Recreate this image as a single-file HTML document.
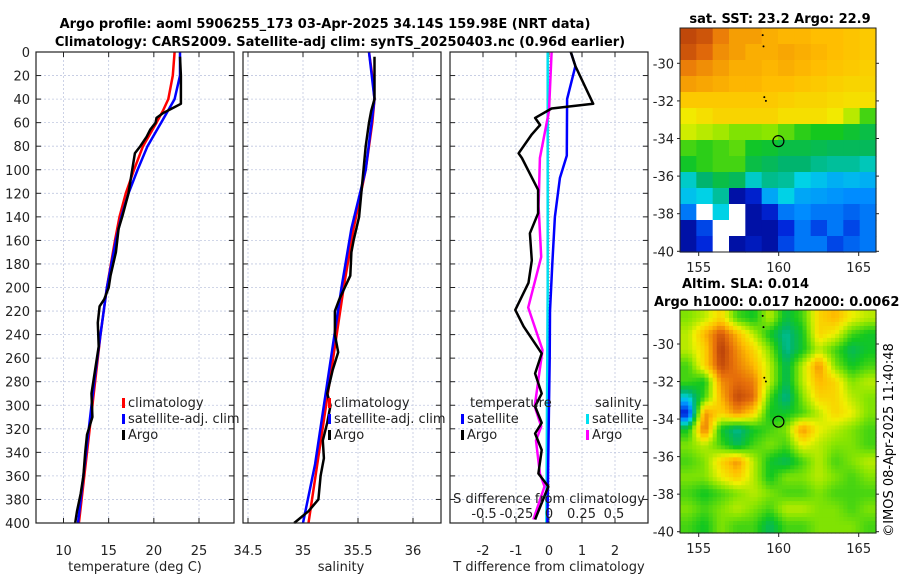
<!DOCTYPE html>
<html><head><meta charset="utf-8">
<style>
body{margin:0;background:#fff;}
svg{display:block;font-family:"DejaVu Sans","Liberation Sans",sans-serif;}
</style></head>
<body>
<svg id="fig" width="900" height="580" viewBox="0 0 900 580">
<text x="325" y="28" text-anchor="middle" font-size="13" font-weight="bold">Argo profile: aoml 5906255_173 03-Apr-2025 34.14S 159.98E (NRT data)</text>
<text x="340" y="46" text-anchor="middle" font-size="13" font-weight="bold">Climatology: CARS2009. Satellite-adj clim: synTS_20250403.nc (0.96d earlier)</text>
<text x="780" y="23" text-anchor="middle" font-size="13" font-weight="bold">sat. SST: 23.2 Argo: 22.9</text>
<text x="682" y="288" font-size="13" font-weight="bold">Altim. SLA: 0.014</text>
<text x="654" y="306" font-size="13" font-weight="bold">Argo h1000: 0.017 h2000: 0.0062</text>
<text transform="translate(893,440) rotate(-90)" text-anchor="middle" font-size="13">©IMOS 08-Apr-2025 11:40:48</text>
</svg>
<script>
// ---------- data ----------
const depthTicks=[0,20,40,60,80,100,120,140,160,180,200,220,240,260,280,300,320,340,360,380,400];
const tTicks=[10,15,20,25];
const sTicks=[34.5,35,35.5,36];
const dTicks=[-2,-1,0,1,2];
const sdTicks=[-0.5,-0.25,0,0.25,0.5];
const sdTickLabels=['-0.5','-0.25','0','0.25','0.5'];

const tClimDepth=[0,20,40,50,60,80,100,120,140,160,200,240,280,320,360,400];
const tClim=[22.3,22.1,21.6,21,20.3,18.8,17.8,16.9,16.2,15.7,14.8,14.1,13.5,12.9,12.3,11.7];
const tSatDepth=[0,20,40,60,80,100,120,140,160,200,240,280,320,360,400];
const tSat=[22.9,22.9,22.3,20.8,19.3,18.2,17.2,16.4,15.8,14.8,14.1,13.4,12.8,12.2,11.6];
const tArgoDepth=[4,20,44,48,52,56,60,66,72,80,86,100,120,140,150,170,190,200,210,216,230,250,270,290,310,325,340,360,375,390,400];
const tArgo=[22.9,23,23,22,21,20.3,20.2,19.6,19.2,18.5,17.9,17.6,17.2,16.5,16.1,15.8,15.2,15,14.5,14,13.8,13.9,13.5,13.1,13.2,12.6,12.4,12.2,11.9,11.5,11.3];

const sClimDepth=[0,20,40,60,100,150,200,250,300,350,400];
const sClim=[35.6,35.63,35.65,35.63,35.57,35.46,35.37,35.29,35.21,35.13,35.05];
const sSatDepth=[0,40,100,150,200,250,300,350,400];
const sSat=[35.6,35.65,35.57,35.44,35.35,35.27,35.19,35.11,35.0];
const sArgoDepth=[4,40,50,60,80,100,120,140,160,170,190,200,210,220,240,255,270,290,300,315,330,345,360,380,390,400];
const sArgo=[35.65,35.65,35.62,35.6,35.57,35.55,35.53,35.51,35.46,35.44,35.43,35.38,35.33,35.29,35.29,35.32,35.27,35.22,35.25,35.22,35.18,35.19,35.16,35.14,35.05,34.92];

const dtSatDepth=[0,12,40,88,107,140,180,220,260,300,400];
const dtSat=[0.66,0.8,0.55,0.54,0.33,0.18,0.1,0.03,0.02,0.0,-0.05];
const dtArgoDepth=[0,12,44,48,56,62,70,86,90,117,137,154,177,196,219,233,256,273,290,301,315,324,338,358,369,397];
const dtArgo=[0.66,0.8,1.34,0.08,-0.42,-0.27,-0.52,-0.92,-0.82,-0.33,-0.33,-0.58,-0.52,-0.62,-1.02,-0.77,-0.22,-0.42,-0.22,-0.42,-0.22,-0.42,-0.22,-0.32,-0.02,-0.42];
const dsSatDepth=[0,100,200,300,400];
const dsSat=[-0.01,-0.01,-0.01,-0.015,-0.02];
const dsArgoDepth=[0,50,90,131,174,217,253,301,318,330,358,369,397];
const dsArgo=[0.02,0,-0.07,-0.08,-0.06,-0.16,-0.05,-0.11,-0.06,-0.1,-0.07,-0.035,-0.12];

const latTicks=[-30,-32,-34,-36,-38,-40];
const lonTicks=[155,160,165];
const sstGrid=[
[.9,.88,.82,.78,.78,.76,.75,.75,.74,.74,.73,.72],
[.88,.85,.8,.78,.76,.76,.77,.76,.75,.74,.73,.72],
[.82,.8,.78,.76,.76,.75,.76,.75,.74,.73,.72,.71],
[.78,.77,.76,.75,.75,.74,.74,.73,.72,.71,.7,.7],
[.72,.72,.72,.72,.72,.72,.71,.7,.7,.69,.68,.68],
[.66,.68,.7,.7,.7,.7,.68,.68,.68,.66,.6,.5],
[.62,.6,.58,.55,.55,.56,.52,.48,.46,.46,.44,.42],
[.5,.48,.5,.52,.45,.44,.42,.42,.41,.4,.4,.4],
[.45,.48,.5,.5,.42,.4,.38,.38,.36,.35,.35,.33],
[.32,.38,.42,.4,.32,.36,.35,.3,.28,.26,.27,.26],
[.28,.3,.35,.05,.1,.25,.3,.25,.24,.23,.22,.22],
[.2,null,.3,null,.05,.1,.2,.22,.2,.2,.18,.2],
[.05,.15,null,null,.05,.05,.12,.2,.15,.2,.15,.2],
[.05,.12,null,.05,.08,.05,.15,.2,.2,.15,.18,.2]];
const slaGrid=[
[.55,.6,.7,.5,.45,.6,.42,.5,.7,.75,.65,.6],
[.6,.75,.88,.75,.6,.45,.35,.45,.7,.65,.5,.45],
[.6,.7,.92,.8,.7,.55,.35,.45,.6,.5,.4,.45],
[.5,.7,.9,.82,.75,.6,.4,.6,.8,.55,.45,.5],
[.5,.45,.8,.85,.82,.6,.4,.6,.75,.7,.55,.6],
[.3,.5,.75,.9,.85,.5,.35,.55,.7,.7,.6,.55],
[.1,.8,.7,.8,.7,.45,.45,.5,.6,.7,.65,.55],
[.45,.85,.45,.35,.45,.5,.55,.8,.65,.6,.55,.5],
[.55,.6,.5,.4,.5,.55,.5,.65,.6,.55,.55,.5],
[.5,.55,.7,.8,.6,.45,.4,.5,.6,.5,.55,.6],
[.55,.55,.65,.72,.6,.45,.55,.55,.6,.55,.5,.55],
[.5,.45,.5,.55,.6,.55,.5,.5,.55,.5,.5,.5],
[.55,.5,.55,.6,.55,.5,.6,.6,.55,.55,.5,.55],
[.5,.45,.55,.5,.5,.4,.5,.5,.55,.55,.55,.5]];
const argoLon=159.98, argoLat=-34.14;

// ---------- helpers ----------
const svg=document.getElementById('fig');
const NS='http://www.w3.org/2000/svg';
function mk(tag,attrs,parent){const e=document.createElementNS(NS,tag);for(const k in attrs)e.setAttribute(k,attrs[k]);(parent||svg).appendChild(e);return e;}
const PT=52,PB=523;
const yD=d=>PT+d*(PB-PT)/400;
function lin(v0,p0,v1,p1){return v=>p0+(v-v0)*(p1-p0)/(v1-v0);}
const xT=lin(10,63.5,25,199);
const xS=lin(34.5,248,36,413);
const xDT=lin(0,549,1,582);
const xDS=lin(0,549,0.5,614);

function panel(name){
  const g=mk('g',{});
  
  
  return g;
}
function frame(g,x0,x1,xt,xf){
  depthTicks.forEach(d=>{const l=mk('line',{x1:x0,x2:x1,y1:yD(d),y2:yD(d),stroke:'#c0c8e0','stroke-width':0.8,'stroke-dasharray':'2,2'},g);
    
    mk('line',{x1:x0,x2:x0+5,y1:yD(d),y2:yD(d),stroke:'#222'},g);mk('line',{x1:x1-5,x2:x1,y1:yD(d),y2:yD(d),stroke:'#222'},g);});
  xt.forEach(v=>{const x=xf(v);const l=mk('line',{x1:x,x2:x,y1:PT,y2:PB,stroke:'#c0c8e0','stroke-width':0.8,'stroke-dasharray':'2,2'},g);
    
    mk('line',{x1:x,x2:x,y1:PB-5,y2:PB,stroke:'#222'},g);mk('line',{x1:x,x2:x,y1:PT,y2:PT+5,stroke:'#222'},g);});
}
function box(g,x0,x1){const r=mk('rect',{x:x0,y:PT,width:x1-x0,height:PB-PT,fill:'none',stroke:'#222','stroke-width':1.2},g);}
function line(g,depths,vals,xf,color,w,name){
  const pts=depths.map((d,i)=>xf(vals[i]).toFixed(1)+','+yD(d).toFixed(1)).join(' ');
  const p=mk('polyline',{points:pts,fill:'none',stroke:color,'stroke-width':w,'stroke-linejoin':'round'},g);
  
}
function txt(g,x,y,s,anchor,name,size){const t=mk('text',{x:x,y:y,'font-size':size||13,'text-anchor':anchor||'start',fill:'#222'},g);t.textContent=s;return t;}
function legendItem(g,x,y,color,label,name){
  const r=mk('rect',{x:x,y:y-9,width:3,height:10,fill:color},g);
  txt(g,x+6,y,label,'start',name);
}

// Panel 1 temperature
const g1=panel('temperature-panel');
frame(g1,36,234,tTicks,xT);
line(g1,tClimDepth,tClim,xT,'#f00',2.5,'temp-climatology-line');
line(g1,tSatDepth,tSat,xT,'#00f',2.5,'temp-satellite-line');
line(g1,tArgoDepth,tArgo,xT,'#000',2.5,'temp-argo-line');
box(g1,36,234);
depthTicks.forEach(d=>txt(g1,30,yD(d)+5,String(d),'end','depth-tick-label'));
tTicks.forEach(v=>txt(g1,xT(v),555,String(v),'middle','temp-tick-label'));
txt(g1,135,571,'temperature (deg C)','middle','temp-axis-title');
legendItem(g1,122,407,'#f00','climatology','legend-climatology');
legendItem(g1,122,423,'#00f','satellite-adj. clim','legend-satellite');
legendItem(g1,122,439,'#000','Argo','legend-argo');

// Panel 2 salinity
const g2=panel('salinity-panel');
frame(g2,243,441,sTicks,xS);
line(g2,sClimDepth,sClim,xS,'#f00',2.5,'sal-climatology-line');
line(g2,sSatDepth,sSat,xS,'#00f',2.5,'sal-satellite-line');
line(g2,sArgoDepth,sArgo,xS,'#000',2.5,'sal-argo-line');
box(g2,243,441);
sTicks.forEach(v=>txt(g2,xS(v),555,String(v),'middle','sal-tick-label'));
txt(g2,341,571,'salinity','middle','sal-axis-title');
legendItem(g2,328,407,'#f00','climatology','legend-climatology-2');
legendItem(g2,328,423,'#00f','satellite-adj. clim','legend-satellite-2');
legendItem(g2,328,439,'#000','Argo','legend-argo-2');

// Panel 3 differences
const g3=panel('difference-panel');
mk('rect',{x:450,y:PT,width:198,height:PB-PT,fill:'#fff'},g3);
frame(g3,450,648,dTicks,xDT);
const zl=mk('line',{x1:xDT(0),x2:xDT(0),y1:PT,y2:PB,stroke:'#666','stroke-width':1,'stroke-dasharray':'1,2'},g3);

line(g3,dsSatDepth,dsSat,xDS,'#00e0f0',2.5,'sdiff-satellite-line');
line(g3,dsArgoDepth,dsArgo,xDS,'#f0f',2.5,'sdiff-argo-line');
line(g3,dtSatDepth,dtSat,xDT,'#00f',2.5,'tdiff-satellite-line');
line(g3,dtArgoDepth,dtArgo,xDT,'#000',2.5,'tdiff-argo-line');
box(g3,450,648);
dTicks.forEach(v=>txt(g3,xDT(v),555,String(v),'middle','tdiff-tick-label'));
txt(g3,549,571,'T difference from climatology','middle','tdiff-axis-title');
txt(g3,549,503,'S difference from climatology','middle','sdiff-axis-title');
sdTicks.forEach((v,i)=>txt(g3,xDS(v),518,sdTickLabels[i],'middle','sdiff-tick-label'));
txt(g3,470,407,'temperature','start','legend-temp-header');
legendItem(g3,461,423,'#00f','satellite','legend-tdiff-satellite');
legendItem(g3,461,439,'#000','Argo','legend-tdiff-argo');
txt(g3,595,407,'salinity','start','legend-sal-header');
legendItem(g3,586,423,'#00e0f0','satellite','legend-sdiff-satellite');
legendItem(g3,586,439,'#f0f','Argo','legend-sdiff-argo');

// ---------- maps ----------
const stops=[[0,[0,0,128]],[0.12,[0,40,220]],[0.22,[0,140,255]],[0.3,[0,210,230]],[0.38,[0,180,110]],[0.46,[20,200,30]],[0.56,[140,230,0]],[0.65,[240,240,0]],[0.74,[255,190,0]],[0.84,[230,110,10]],[0.95,[160,40,10]],[1,[140,30,10]]];
function cmap(v){for(let i=1;i<stops.length;i++){if(v<=stops[i][0]){const a=stops[i-1],b=stops[i];const t=(v-a[0])/(b[0]-a[0]);const c=a[1].map((x,k)=>Math.round(x+(b[1][k]-x)*t));return 'rgb('+c.join(',')+')';}}return 'rgb(140,30,10)';}
function upsample(grid,f){
  const R=grid.length,C=grid[0].length,out=[];
  for(let r=0;r<R*f;r++){const row=[];const fr=Math.min(Math.max((r+0.5)/f-0.5,0),R-1);const r0=Math.floor(fr),r1=Math.min(r0+1,R-1),tr=fr-r0;
    for(let c=0;c<C*f;c++){const fc=Math.min(Math.max((c+0.5)/f-0.5,0),C-1);const c0=Math.floor(fc),c1=Math.min(c0+1,C-1),tc=fc-c0;
      const v=grid[r0][c0]*(1-tr)*(1-tc)+grid[r0][c1]*(1-tr)*tc+grid[r1][c0]*tr*(1-tc)+grid[r1][c1]*tr*tc;row.push(v);}
    out.push(row);}
  return out;
}
function drawMap(name,grid,x0,x1,y0,y1,lat30y,lat40y){
  const g=mk('g',{});
  
  
  const xL=lin(155,698.7,165,858.7);
  const yL=lin(-30,lat30y,-40,lat40y);
  const rows=grid.length,cols=grid[0].length;
  const cw=(x1-x0)/cols,ch=(y1-y0)/rows;
  grid.forEach((row,r)=>row.forEach((v,c)=>{
    const rc=mk('rect',{x:(x0+c*cw).toFixed(2),y:(y0+r*ch).toFixed(2),width:(cw+0.6).toFixed(2),height:(ch+0.6).toFixed(2),fill:v===null?'#fff':cmap(v)},g);
    
  }));
  const bx=mk('rect',{x:x0,y:y0,width:x1-x0,height:y1-y0,fill:'none',stroke:'#222'},g);
  
  latTicks.forEach(v=>{const y=yL(v);mk('line',{x1:x0-3,x2:x0,y1:y,y2:y,stroke:'#222'},g);mk('line',{x1:x1,x2:x1+3,y1:y,y2:y,stroke:'#222'},g);txt(g,x0-6,y+5,String(v),'end','lat-tick-label');});
  lonTicks.forEach(v=>{const x=xL(v);mk('line',{x1:x,x2:x,y1:y1,y2:y1+4,stroke:'#222'},g);txt(g,x,y1+20,String(v),'middle','lon-tick-label');});
  const ci=mk('circle',{cx:xL(argoLon),cy:yL(argoLat),r:5.5,fill:'none',stroke:'#000','stroke-width':1.2},g);
  
  [[159,-28.5],[159.05,-29.1],[159.1,-31.8],[159.2,-32]].forEach(p=>mk('circle',{cx:xL(p[0]),cy:yL(p[1]),r:1,fill:'#000'},g));
}
drawMap('sst-map',sstGrid,680,876,28,252,63.3,251.3);
drawMap('sla-map',upsample(slaGrid,4),680,876,310,533,344,531.7);
</script>
</body></html>
